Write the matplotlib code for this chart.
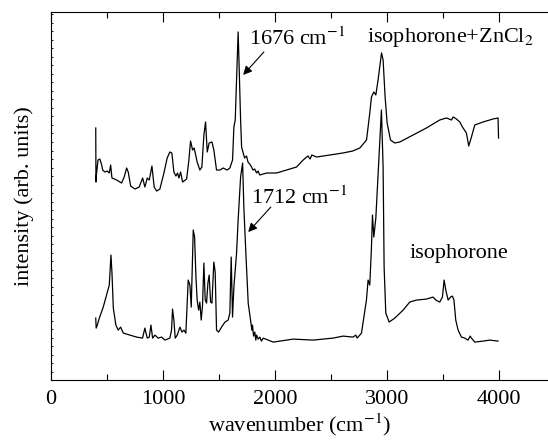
import numpy as np
import matplotlib.pyplot as plt
from matplotlib.ticker import MultipleLocator

plt.rcParams['font.family'] = ['Liberation Serif', 'DejaVu Serif']
plt.rcParams['mathtext.fontset'] = 'stix'

# isophorone + ZnCl2 (upper trace): (wavenumber, intensity in arb. units)
top_trace = [(400, 252), (402, 198), (406, 205), (420, 220), (437, 221), (453, 215), (462, 210),
             (482, 208), (503, 209), (521, 207), (533, 215), (545, 202), (587, 200), (631, 197),
             (654, 203), (676, 212), (690, 208), (712, 194), (750, 191), (788, 193), (819, 202),
             (839, 193), (860, 202), (878, 200), (902, 214), (922, 193), (944, 189), (973, 191),
             (1009, 207), (1038, 222), (1062, 228), (1080, 227), (1098, 208), (1116, 204),
             (1131, 207), (1143, 202), (1158, 208), (1176, 198), (1212, 201), (1232, 220),
             (1247, 239), (1265, 230), (1279, 232), (1306, 218), (1330, 210), (1348, 213),
             (1366, 245), (1381, 258), (1396, 228), (1413, 237), (1438, 238), (1455, 230),
             (1479, 210), (1509, 210), (1538, 212), (1574, 210), (1598, 212), (1622, 220),
             (1634, 253), (1646, 260), (1672, 348), (1681, 313), (1694, 260), (1703, 233),
             (1717, 227), (1730, 222), (1747, 224), (1760, 218), (1775, 216), (1792, 213),
             (1805, 210), (1820, 211), (1837, 207), (1850, 209), (1866, 205), (1926, 207),
             (2015, 207), (2104, 210), (2194, 213), (2253, 220), (2295, 224), (2315, 221),
             (2330, 225), (2372, 223), (2491, 225), (2607, 227), (2696, 229), (2759, 232),
             (2819, 240), (2848, 267), (2863, 283), (2884, 288), (2902, 285), (2922, 300),
             (2953, 327), (2967, 320), (2985, 283), (3003, 257), (3033, 240), (3071, 237),
             (3116, 238), (3235, 245), (3354, 252), (3473, 260), (3533, 262), (3578, 260),
             (3592, 263), (3622, 261), (3652, 258), (3676, 253), (3711, 247), (3732, 234),
             (3756, 243), (3786, 255), (3860, 258), (3949, 261), (3994, 262), (3998, 242)]

# isophorone (lower trace)
bot_trace = [(400, 62), (404, 52), (414, 55), (432, 62), (467, 73), (497, 85), (521, 95),
             (536, 125), (545, 107), (557, 72), (580, 55), (601, 50), (622, 53), (646, 47),
             (705, 45), (765, 43), (818, 42), (839, 52), (860, 42), (878, 43), (893, 55),
             (908, 42), (929, 45), (958, 42), (988, 43), (1018, 40), (1062, 42), (1077, 50),
             (1086, 71), (1098, 60), (1110, 42), (1128, 45), (1152, 53), (1170, 48), (1188, 50),
             (1205, 47), (1217, 77), (1226, 100), (1241, 95), (1253, 73), (1271, 150),
             (1283, 143), (1295, 103), (1306, 80), (1319, 70), (1330, 78), (1342, 60),
             (1354, 75), (1366, 117), (1378, 80), (1390, 77), (1402, 97), (1413, 105),
             (1426, 78), (1438, 77), (1455, 118), (1467, 108), (1479, 50), (1497, 48),
             (1524, 53), (1554, 58), (1583, 60), (1598, 67), (1610, 123), (1622, 63),
             (1634, 93), (1658, 127), (1672, 160), (1694, 203), (1712, 217), (1723, 173),
             (1741, 127), (1762, 77), (1783, 60), (1795, 50), (1800, 55), (1810, 44),
             (1821, 48), (1830, 40), (1837, 45), (1851, 41), (1866, 43), (1880, 39),
             (1896, 42), (1940, 40), (1985, 38), (2045, 39), (2164, 41), (2342, 40),
             (2521, 42), (2610, 44), (2699, 43), (2723, 45), (2735, 42), (2774, 47),
             (2818, 80), (2833, 100), (2848, 95), (2863, 133), (2872, 165), (2884, 143),
             (2902, 162), (2952, 270), (2967, 213), (2976, 113), (2991, 67), (3021, 58),
             (3071, 62), (3146, 70), (3205, 78), (3265, 80), (3354, 81), (3414, 83),
             (3438, 80), (3473, 78), (3497, 83), (3512, 100), (3527, 90), (3548, 80),
             (3569, 83), (3586, 84), (3600, 80), (3616, 60), (3637, 50), (3667, 43),
             (3696, 42), (3726, 40), (3745, 44), (3756, 42), (3786, 38), (3860, 39),
             (3920, 40), (3994, 39)]

top_wn, top_int = zip(*top_trace)
bot_wn, bot_int = zip(*bot_trace)

fig = plt.figure(figsize=(5.48, 4.42), dpi=100)
ax = fig.add_axes([0.093, 0.140, 0.907, 0.833])

ax.plot(top_wn, top_int, color='black', lw=0.9)
ax.plot(bot_wn, bot_int, color='black', lw=0.9)

ax.set_xlim(0, 4440)
ax.set_ylim(0, 368)

ax.xaxis.set_major_locator(MultipleLocator(1000))
ax.xaxis.set_minor_locator(MultipleLocator(500))
ax.yaxis.set_major_locator(MultipleLocator(8.5))
ax.tick_params(axis='x', which='major', direction='in', length=7, width=0.8, top=True,
               labelsize=16, pad=7)
ax.tick_params(axis='x', which='minor', direction='in', length=4, width=0.8, top=True)
ax.tick_params(axis='y', which='major', direction='in', length=1.5, width=0.6, labelleft=False)
ax.spines['right'].set_visible(False)
for s in ['left', 'bottom', 'top']:
    ax.spines[s].set_linewidth(0.8)

ax.set_xlabel('wavenumber (cm$^{-1}$)', fontsize=16, labelpad=2)
ax.set_ylabel('intensity (arb. units)', fontsize=16, labelpad=12)

arrow = dict(arrowstyle='-|>', color='black', lw=0.8, mutation_scale=13,
             shrinkA=0, shrinkB=0)
ax.text(2196, 341, '1676 cm$^{-1}$', fontsize=16, ha='center', va='center')
ax.annotate('', xy=(1717, 305), xytext=(1902, 328), arrowprops=arrow)
ax.text(2220, 182, '1712 cm$^{-1}$', fontsize=16, ha='center', va='center')
ax.annotate('', xy=(1762, 148), xytext=(1964, 173), arrowprops=arrow)
ax.text(3570, 342, 'isophorone+ZnCl$_2$', fontsize=16, ha='center', va='center')
ax.text(3640, 127, 'isophorone', fontsize=16, ha='center', va='center')

fig.savefig('out.png', dpi=100)
